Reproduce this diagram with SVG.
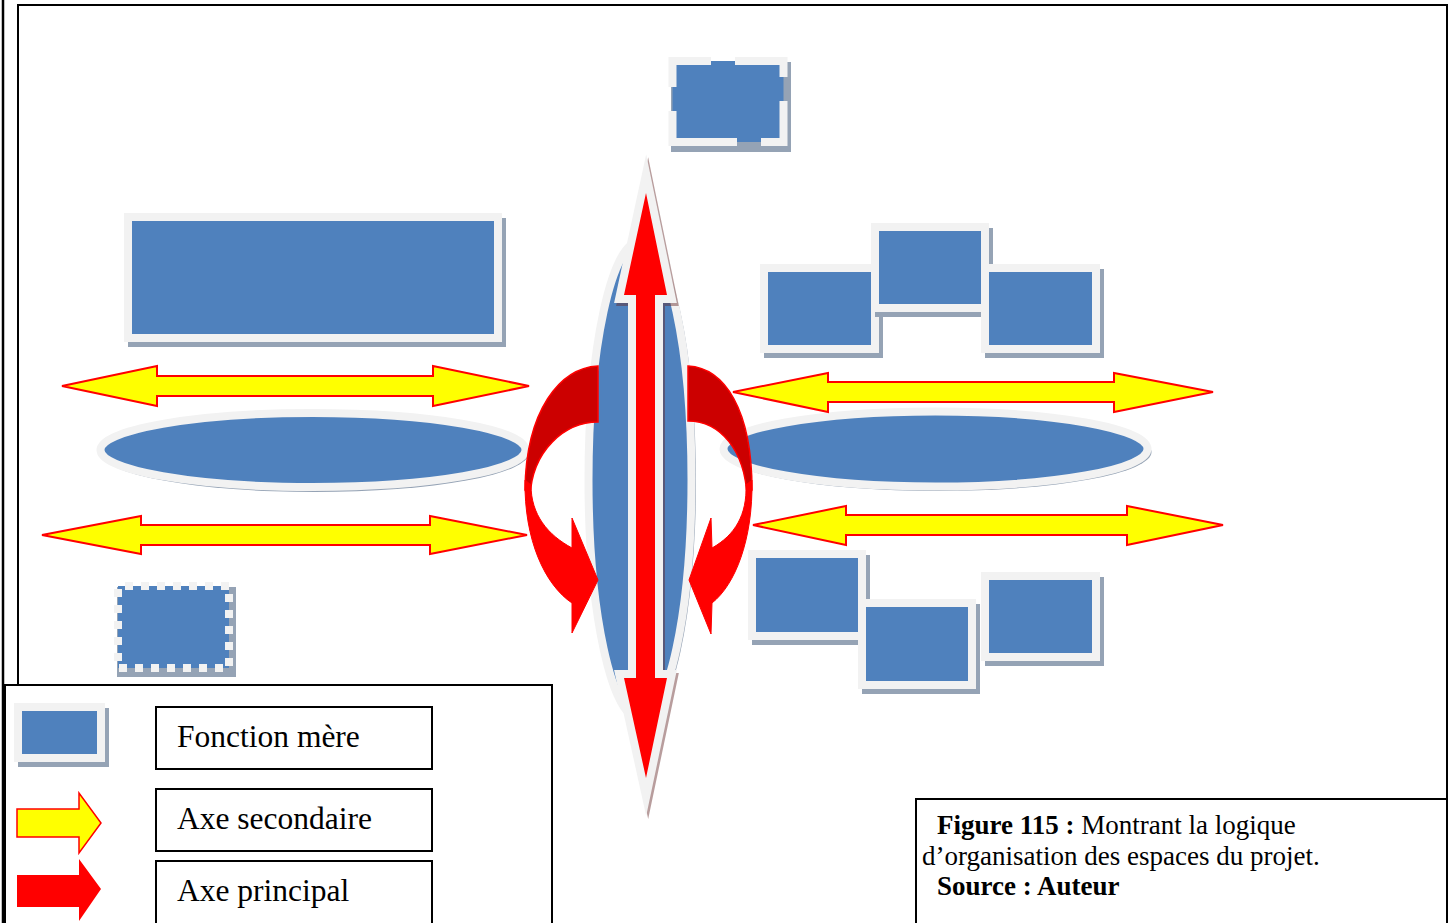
<svg xmlns="http://www.w3.org/2000/svg" width="1456" height="923" viewBox="0 0 1456 923">
<style>
.box{fill:#4f81bd;stroke:#f2f2f2;stroke-width:8}
.sh{fill:#95a3b5}
.ya{fill:#ffff00;stroke:#ff0000;stroke-width:2;stroke-linejoin:miter}
.fr{fill:none;stroke:#000;stroke-width:2}
.wb{fill:#fff;stroke:#000;stroke-width:2}
.lbl{font-family:"Liberation Serif","Times New Roman",serif;font-size:31.5px;fill:#000}
.cap{font-family:"Liberation Serif","Times New Roman",serif;font-size:27px;fill:#000}
.dark{fill:#cc0000;stroke:#ff0000;stroke-width:1.5}
.bright{fill:#ff0000;stroke:#ff0000;stroke-width:1}
</style>
<rect width="1456" height="923" fill="#fff"/>
<g id="frame">
<line x1="3" y1="0" x2="3" y2="923" stroke="#000" stroke-width="2.5"/>
<rect class="fr" x="18" y="5" width="1429" height="940"/>
</g>
<g id="top-box">
<rect class="sh" x="671" y="62" width="120" height="90"/>
<rect class="box" x="672.5" y="61" width="111" height="81" stroke-width="9" stroke-dasharray="38.5 24 64.5 24 63.5 24 95.5 24 26"/>
</g>
<g id="big-rect">
<rect class="sh" x="128" y="218" width="378" height="129"/>
<rect class="box" x="128" y="217" width="370" height="121"/>
</g>
<g id="box-a"><rect class="sh" x="764" y="269" width="119" height="89"/><rect class="box" x="764" y="268" width="111" height="81"/></g>
<g id="box-b"><rect class="sh" x="875" y="228" width="118" height="89"/><rect class="box" x="875" y="227" width="110" height="81"/></g>
<g id="box-c"><rect class="sh" x="985" y="269" width="119" height="89"/><rect class="box" x="985" y="268" width="111" height="81"/></g>
<g id="box-d"><rect class="sh" x="752" y="555" width="118" height="90"/><rect class="box" x="752" y="554" width="110" height="82"/></g>
<g id="box-e"><rect class="sh" x="862" y="604" width="118" height="90"/><rect class="box" x="862" y="603" width="110" height="82"/></g>
<g id="box-f"><rect class="sh" x="985" y="577" width="119" height="89"/><rect class="box" x="985" y="576" width="111" height="81"/></g>
<g id="dotted-box">
<rect class="sh" x="117" y="587" width="119" height="90"/>
<rect class="box" x="118" y="586" width="111" height="82" stroke-dasharray="8 8" stroke-dashoffset="9"/>
</g>
<g id="ellipse-left">
<ellipse class="sh" cx="315" cy="453" rx="214" ry="39"/>
<ellipse class="box" cx="313" cy="450" rx="212.5" ry="37" stroke-width="7"/>
</g>
<g id="ellipse-right">
<ellipse class="sh" cx="937.5" cy="452" rx="214" ry="39"/>
<ellipse class="box" cx="935.5" cy="449" rx="212" ry="37.5" stroke-width="7"/>
</g>
<g id="connectors">
<path class="ya" d="M62,386 L157,366 L157,376 L433,376 L433,366 L529,386 L433,406 L433,396 L157,396 L157,406 Z"/>
<path class="ya" d="M42,535 L141,516 L141,525 L430,525 L430,516 L527,535 L430,554 L430,545 L141,545 L141,554 Z"/>
<path class="ya" d="M733,392 L828,373 L828,382 L1114,382 L1114,373 L1213,392 L1114,412 L1114,402 L828,402 L828,412 Z"/>
<path class="ya" d="M753,525 L846,506 L846,515 L1127,515 L1127,506 L1223,525 L1127,545 L1127,535 L846,535 L846,545 Z"/>
</g>
<g id="central-ellipse">
<ellipse class="sh" cx="643" cy="482" rx="53" ry="240"/>
<ellipse class="box" cx="640" cy="480" rx="51.5" ry="238.5" stroke-width="7"/>
</g>
<g id="main-axis">
<g opacity="0.45" transform="translate(2,3)">
<path d="M646,193 L667,295 L655,295 L655,678 L667,678 L646,778 L624,678 L636,678 L636,295 L624,295 Z" fill="#642828" stroke="#642828" stroke-width="16" stroke-miterlimit="10"/>
</g>
<path d="M646,193 L667,295 L655,295 L655,678 L667,678 L646,778 L624,678 L636,678 L636,295 L624,295 Z" fill="#ff0000" stroke="#f2f2f2" stroke-width="16" stroke-miterlimit="10" paint-order="stroke"/>
</g>
<g id="curved-left">
<path class="dark" d="M598,366 C560,368 526,410 525,490 L530,497 C532,450 565,422 598,422 Z"/>
<path class="bright" d="M525,480 C524,540 545,585 572,603 L572,633 L598,580 L572,518 L572,548 C548,535 531,515 531,485 Z"/>
</g>
<g id="curved-right">
<path class="dark" d="M688,366 C725,368 752,410 752,490 L747,497 C745,450 720,421 688,421 Z"/>
<path class="bright" d="M752,480 C753,540 735,585 712,603 L711,634 L689,580 L711,518 L712,548 C735,535 747,515 746,485 Z"/>
</g>
<g id="legend">
<rect class="wb" x="5" y="685" width="547" height="260"/>
<rect class="sh" x="18" y="708" width="91" height="59"/>
<rect class="box" x="18" y="707" width="83" height="51"/>
<path d="M17,809 L79,809 L79,793 L101,823 L79,853 L79,837 L17,837 Z" fill="#ffff00" stroke="#ff0000" stroke-width="1.5"/>
<path d="M17,875 L79,875 L79,859 L101,889 L79,921 L79,907 L17,907 Z" fill="#ff0000"/>
<rect class="wb" x="156" y="707" width="276" height="62"/>
<rect class="wb" x="156" y="789" width="276" height="62"/>
<rect class="wb" x="156" y="861" width="276" height="80"/>
<text class="lbl" x="177" y="747">Fonction mère</text>
<text class="lbl" x="177" y="829">Axe secondaire</text>
<text class="lbl" x="177" y="901">Axe principal</text>
</g>
<g id="caption">
<rect class="wb" x="916" y="799" width="531" height="150"/>
<text class="cap" x="937" y="834"><tspan font-weight="bold">Figure 115 :</tspan> Montrant la logique</text>
<text class="cap" x="922" y="865">d’organisation des espaces du projet.</text>
<text class="cap" x="937" y="895" font-weight="bold">Source : Auteur</text>
</g>
</svg>
